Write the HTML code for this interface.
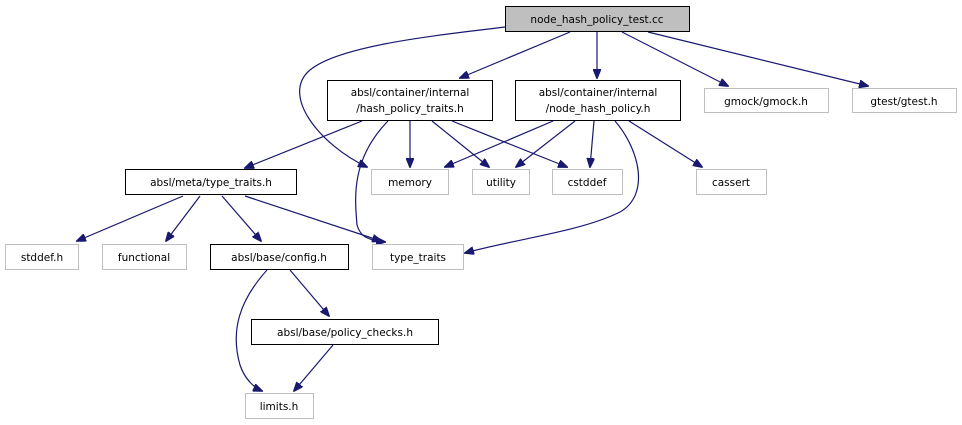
<!DOCTYPE html>
<html><head><meta charset="utf-8"><style>
html,body{margin:0;padding:0;background:#fff;}
svg{display:block;}
text{font-family:"DejaVu Sans","Liberation Sans",sans-serif;font-size:10.5px;fill:#000;text-anchor:middle;}
.e{fill:none;stroke:#191970;stroke-width:1.2;}
.b{fill:#fff;stroke:#000;stroke-width:1;}
.g{fill:#fff;stroke:#bfbfbf;stroke-width:1;}
</style></head><body>
<svg width="962" height="425" viewBox="0 0 962 425" xmlns="http://www.w3.org/2000/svg">
<defs><marker id="a" markerWidth="10" markerHeight="8" refX="9" refY="4" orient="auto" markerUnits="userSpaceOnUse"><path d="M0,0 L10,4 L0,8 z" fill="#191970" stroke="#191970"/></marker></defs>
<g marker-end="url(#a)">
<path class="e" d="M505,27 C440,35 340,45 310,70 C280,95 320,145 367,167"/>
<path class="e" d="M570,32 L460,78"/>
<path class="e" d="M597,32 L597,78"/>
<path class="e" d="M622,32 L728,86"/>
<path class="e" d="M648,32 L868,86"/>
<path class="e" d="M362,121 L245,168"/>
<path class="e" d="M388,121 C350,160 355,200 357,225 C360,235 365,240 385,242"/>
<path class="e" d="M410,121 L410,167"/>
<path class="e" d="M432,121 L489,167"/>
<path class="e" d="M452,121 L567,167"/>
<path class="e" d="M553,121 L445,167"/>
<path class="e" d="M575,121 L516,167"/>
<path class="e" d="M594,121 L590,167"/>
<path class="e" d="M615,121 C640,150 650,195 620,212 C580,232 510,240 465,253"/>
<path class="e" d="M629,121 L702,167"/>
<path class="e" d="M183,196 L77,241"/>
<path class="e" d="M200,196 L166,241"/>
<path class="e" d="M222,196 L261,241"/>
<path class="e" d="M245,196 L381,241"/>
<path class="e" d="M267,270 C240,300 230,330 240,365 C245,380 255,388 262,391"/>
<path class="e" d="M290,270 L329,316"/>
<path class="e" d="M333,345 L294,391"/>
</g>
<rect x="505.5" y="6.5" width="184" height="25" fill="#bfbfbf" stroke="#000"/>
<text x="597" y="23">node_hash_policy_test.cc</text>
<rect class="b" x="327.5" y="80.5" width="165" height="40"/>
<text x="410" y="96">absl/container/internal</text><text x="410" y="112">/hash_policy_traits.h</text>
<rect class="b" x="515.5" y="80.5" width="165" height="40"/>
<text x="598" y="96">absl/container/internal</text><text x="598" y="112">/node_hash_policy.h</text>
<rect class="g" x="704.5" y="88.5" width="124" height="24"/><text x="766" y="105">gmock/gmock.h</text>
<rect class="g" x="852.5" y="88.5" width="104" height="24"/><text x="904" y="105">gtest/gtest.h</text>
<rect class="g" x="371.5" y="169.5" width="77" height="25"/><text x="410" y="186">memory</text>
<rect class="g" x="472.5" y="169.5" width="57" height="25"/><text x="501" y="186">utility</text>
<rect class="g" x="552.5" y="169.5" width="70" height="25"/><text x="587" y="186">cstddef</text>
<rect class="g" x="696.5" y="169.5" width="70" height="25"/><text x="731" y="186">cassert</text>
<rect class="b" x="125.5" y="169.5" width="171" height="25"/><text x="211" y="186">absl/meta/type_traits.h</text>
<rect class="g" x="5.5" y="244.5" width="73" height="25"/><text x="42" y="261">stddef.h</text>
<rect class="g" x="102.5" y="244.5" width="84" height="25"/><text x="144" y="261">functional</text>
<rect class="b" x="210.5" y="244.5" width="138" height="25"/><text x="279" y="261">absl/base/config.h</text>
<rect class="g" x="372.5" y="244.5" width="91" height="25"/><text x="418" y="261">type_traits</text>
<rect class="b" x="251.5" y="319.5" width="187" height="25"/><text x="345" y="336">absl/base/policy_checks.h</text>
<rect class="g" x="245.5" y="393.5" width="68" height="25"/><text x="279" y="410">limits.h</text>
</svg>
</body></html>
